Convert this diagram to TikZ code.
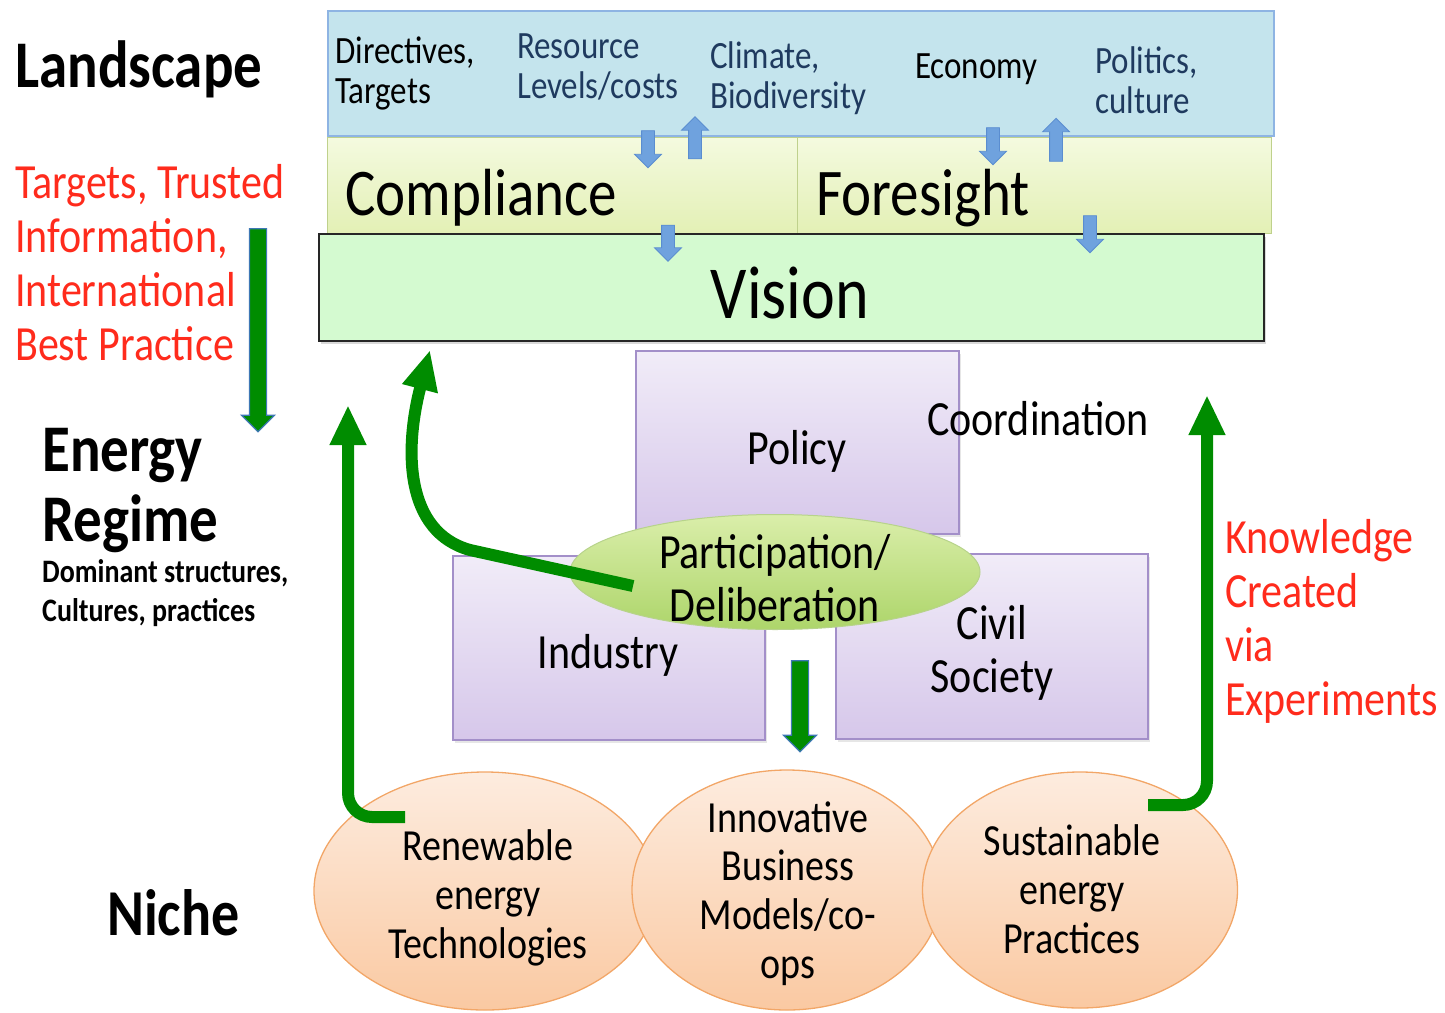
\documentclass[tikz,border=0pt]{standalone}
\usepackage{fontspec}
\setmainfont{Carlito}
\usepackage{tikz}
\usetikzlibrary{arrows.meta, shapes.geometric, shapes.arrows, positioning, shadows}

\definecolor{skyfill}{HTML}{C4E4ED}
\definecolor{skyline}{HTML}{8EB4E3}
\definecolor{lenstop}{HTML}{F4FADF}
\definecolor{lensbot}{HTML}{E3F0B5}
\definecolor{lensline}{HTML}{BFD18C}
\definecolor{visionfill}{HTML}{D4FAD0}
\definecolor{actortop}{HTML}{F1ECF8}
\definecolor{actorbot}{HTML}{D6C7EA}
\definecolor{actorline}{HTML}{A38FC9}
\definecolor{forumtop}{HTML}{DAEEAA}
\definecolor{forumbot}{HTML}{ADD56A}
\definecolor{forumline}{HTML}{B7D38B}
\definecolor{pottop}{HTML}{FDECDF}
\definecolor{potbot}{HTML}{FAC9A2}
\definecolor{potline}{HTML}{F2A667}
\definecolor{flowgreen}{HTML}{008C00}
\definecolor{bluefill}{HTML}{6FA2DE}
\definecolor{blueline}{HTML}{5A8DD0}
\definecolor{pushedge}{HTML}{3E78B5}
\definecolor{redtext}{HTML}{FF2B1C}
\definecolor{navytext}{HTML}{1F3A5F}

\begin{document}
\begin{tikzpicture}[x=1pt, y=-1pt,
    skybox/.style={draw=skyline, line width=2pt, fill=skyfill},
    lensbox/.style={draw=lensline, line width=1.2pt, top color=lenstop, bottom color=lensbot},
    visionbox/.style={draw=black!85, line width=2.2pt, fill=visionfill,
        drop shadow={opacity=0.3, shadow xshift=2pt, shadow yshift=-3pt}},
    actorbox/.style={draw=actorline, line width=1.5pt, top color=actortop, bottom color=actorbot,
        drop shadow={opacity=0.2, shadow xshift=2pt, shadow yshift=-3pt}},
    forum/.style={ellipse, draw=forumline, line width=1pt, top color=forumtop, bottom color=forumbot, inner sep=0pt},
    pot/.style={ellipse, draw=potline, line width=1.3pt, top color=pottop, bottom color=potbot, inner sep=0pt},
    txt/.style={inner sep=0pt, yscale=1.17},
    heading/.style={txt, font=\fontsize{57}{59}\selectfont\bfseries},
    small/.style={txt, font=\fontsize{33}{34}\selectfont},
    mid/.style={txt, font=\fontsize{42}{45}\selectfont},
    big/.style={txt, font=\fontsize{57}{59}\selectfont},
    red/.style={mid, text=redtext, align=left},
    pottext/.style={txt, font=\fontsize{38}{41.5}\selectfont, align=center},
    flowline/.style={line width=12pt, draw=flowgreen, -{Triangle[width=34pt, length=40pt]}},
    bluedrop/.style={single arrow, draw=blueline, line width=0.8pt, fill=bluefill,
        inner xsep=0pt, inner ysep=6pt, single arrow head extend=7pt},
    greenpush/.style={single arrow, draw=pushedge, line width=1.2pt, fill=flowgreen,
        inner xsep=0pt, inner ysep=8pt, single arrow head extend=8pt, rotate=-90}
]
\useasboundingbox (0,0) rectangle (1445,1012);

% layers of the landscape
\node[skybox, minimum width=946pt, minimum height=125pt, anchor=north west] (land) at (327,10) {};
\node[lensbox, minimum width=470pt, minimum height=96pt, anchor=north west] (comp) at (327,137) {};
\node[lensbox, minimum width=474pt, minimum height=96pt, anchor=north west] (fore) at (797,137) {};
\node[visionbox, minimum width=945pt, minimum height=107pt, anchor=north west] (vis) at (318,233) {};

% (multi-line nodes sit on the baseline of their last line)
\node[small, anchor=base west, align=left] (dir) at (335,103) {Directives,\\Targets};
\node[small, anchor=base west, align=left, text=navytext] (res) at (517,98) {Resource\\Levels/costs};
\node[small, anchor=base west, align=left, text=navytext] (clim) at (710,108) {Climate,\\Biodiversity};
\node[small, anchor=base west] (econ) at (915,78) {Economy};
\node[small, anchor=base west, align=left, text=navytext] (pol) at (1095,113) {Politics,\\culture};

\node[big, anchor=base west] at (345,215) (compt) {Compliance};
\node[big, anchor=base west] at (816,215) (foret) {Foresight};
\node[txt, font=\fontsize{64}{66}\selectfont, anchor=base] (vist) at (790,318) {Vision};

% small blue arrows between the layers
\node[bluedrop, rotate=-90, minimum height=37pt] (c1) at (648,146) {};
\node[bluedrop, rotate=90, minimum height=42pt] (c2) at (695,141) {};
\node[bluedrop, rotate=-90, minimum height=36pt] (c3) at (668,240) {};
\node[bluedrop, rotate=-90, minimum height=37pt] (c4) at (993,143) {};
\node[bluedrop, rotate=90, minimum height=43pt] (c5) at (1056,143) {};
\node[bluedrop, rotate=-90, minimum height=37pt] (c6) at (1090,231) {};

% regime actors
\node[actorbox, minimum width=323pt, minimum height=183pt, anchor=north west] (policy) at (635,350) {};
\node[actorbox, minimum width=312pt, minimum height=184pt, anchor=north west] (ind) at (452,555) {};
\node[actorbox, minimum width=312pt, minimum height=185pt, anchor=north west] (civ) at (835,553) {};
\node[forum, minimum width=410pt, minimum height=115pt] (part) at (775,572) {};

\node[mid, anchor=base] (policyt) at (797,464) {Policy};
\node[mid, anchor=base west] (coord) at (927,435) {Coordination};
\node[mid, anchor=base] (indt) at (608,668) {Industry};
\node[mid, anchor=base, align=center] (civt) at (992,692) {Civil\\Society};
\node[mid, anchor=base, align=center] (partt) at (775,621) {Participation/\\Deliberation};

% niches
\node[pot, minimum width=342pt, minimum height=238pt] (n1) at (485,891) {};
\node[pot, minimum width=310pt, minimum height=240pt] (n2) at (787,890) {};
\node[pot, minimum width=315pt, minimum height=236pt] (n3) at (1080,890) {};
\node[pottext, anchor=base] (n1t) at (488,958) {Renewable\\energy\\Technologies};
\node[pottext, anchor=base] (n2t) at (788,978) {Innovative\\Business\\Models/co-\\ops};
\node[pottext, anchor=base] (n3t) at (1072,953) {Sustainable\\energy\\Practices};

% level names
\node[heading, anchor=base west] (lscape) at (15,87) {Landscape};
\node[heading, anchor=base west, align=left] (regime) at (42,541) {Energy\\Regime};
\node[txt, anchor=base west, align=left, font=\fontsize{28}{32.5}\selectfont\bfseries] (regsub) at (42,621) {Dominant structures,\\Cultures, practices};
\node[txt, anchor=base west, font=\fontsize{56}{58}\selectfont\bfseries] (niche) at (107,935) {Niche};

\node[red, anchor=base west, font=\fontsize{42}{46}\selectfont] (down) at (15,360) {Targets, Trusted\\Information,\\International\\Best Practice};
\node[red, anchor=base west, font=\fontsize{42}{46}\selectfont] (up) at (1225,715) {Knowledge\\Created\\via\\Experiments};

% green arrows
\node[greenpush, minimum height=203pt] (g1) at (258,326) {};
\node[greenpush, minimum height=91pt] (g2) at (800,702) {};

\coordinate (rtail) at (405,817);
\coordinate (rhead) at (348,405);
\coordinate (stail) at (1148,805);
\coordinate (shead) at (1207,395);
\coordinate (ptail) at (633,586);
\coordinate (phead) at (430,350);

\draw[flowline, rounded corners=24pt] (rtail) -| (rhead);
\draw[flowline, rounded corners=24pt] (stail) -| (shead);
\draw[flowline] (ptail) -- (470,550) .. controls (405,532) and (404,450) .. (phead);
\end{tikzpicture}
\end{document}
